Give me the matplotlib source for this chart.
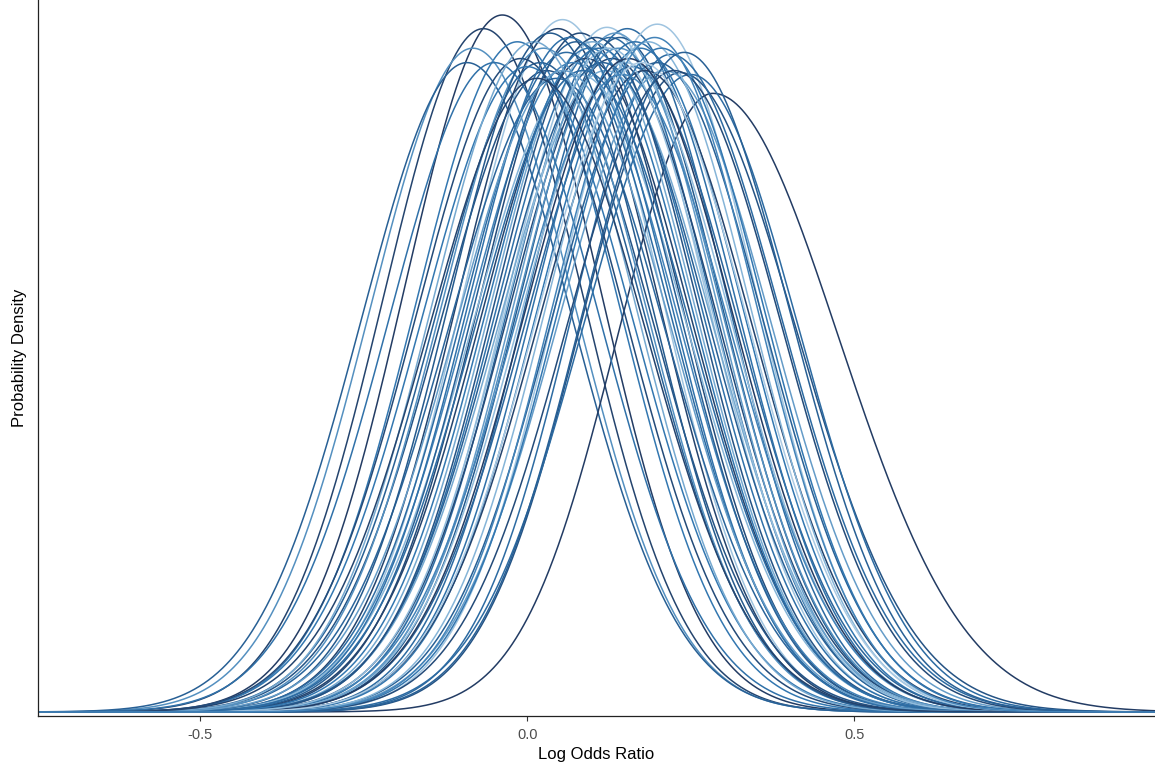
import numpy as np
import matplotlib
matplotlib.use("Agg")
import matplotlib.pyplot as plt
from matplotlib.colors import LinearSegmentedColormap

# Posterior curves: location (log odds ratio), left/right spread, colour shade
means = [-0.038, -0.067, -0.015, -0.083, -0.092, 0.054, 0.047, 0.081, 0.122, 0.153,
         0.199, 0.127, 0.142, 0.284, 0.234, 0.219, 0.020, 0.173, 0.199, 0.100,
         0.110, 0.130, 0.140, 0.150, 0.160, 0.090, 0.070, 0.060, 0.030, 0.000,
         0.120, 0.180, 0.210, 0.250, 0.080, 0.045, 0.115, 0.135, 0.105, 0.165,
         0.185, 0.095, 0.075, 0.025, -0.010, -0.050, 0.010, 0.145, 0.155, 0.125,
         0.065, 0.035, 0.205, 0.225, 0.175, 0.085, 0.055, 0.015, 0.240, 0.195]
sd_left = [0.150, 0.153, 0.156, 0.1575, 0.161, 0.151, 0.153, 0.154, 0.1527, 0.153,
           0.152, 0.155, 0.155, 0.146, 0.152, 0.150, 0.161, 0.1575, 0.161, 0.156,
           0.1575, 0.160, 0.1575, 0.161, 0.162, 0.160, 0.161, 0.1585, 0.163, 0.162,
           0.163, 0.163, 0.163, 0.164, 0.164, 0.165, 0.161, 0.154, 0.155, 0.156,
           0.156, 0.1575, 0.156, 0.1575, 0.160, 0.161, 0.156, 0.164, 0.160, 0.1575,
           0.155, 0.154, 0.1575, 0.163, 0.161, 0.163, 0.163, 0.165, 0.155, 0.155]
sd_right = [0.150, 0.153, 0.156, 0.1575, 0.161, 0.151, 0.153, 0.154, 0.1527, 0.153,
            0.152, 0.155, 0.155, 0.192, 0.175, 0.168, 0.161, 0.1575, 0.161, 0.156,
            0.1575, 0.160, 0.1575, 0.161, 0.162, 0.160, 0.161, 0.1585, 0.163, 0.162,
            0.163, 0.163, 0.163, 0.164, 0.164, 0.165, 0.161, 0.154, 0.155, 0.156,
            0.156, 0.1575, 0.156, 0.1575, 0.160, 0.161, 0.156, 0.164, 0.160, 0.1575,
            0.155, 0.154, 0.1575, 0.163, 0.161, 0.163, 0.163, 0.165, 0.162, 0.155]
shades = [0.95, 0.90, 0.50, 0.40, 0.70, 0.15, 0.90, 0.85, 0.15, 0.60,
          0.15, 0.60, 0.75, 0.95, 0.80, 0.60, 0.70, 0.50, 0.70, 0.30,
          0.55, 0.85, 0.40, 0.20, 0.65, 0.90, 0.45, 0.60, 0.80, 0.50,
          0.30, 0.90, 0.35, 0.60, 0.25, 0.65, 0.70, 0.35, 0.80, 0.55,
          0.25, 0.50, 0.70, 0.40, 0.85, 0.55, 0.30, 0.45, 0.95, 0.20,
          0.55, 0.75, 0.50, 0.85, 0.10, 0.60, 0.35, 0.90, 0.70, 0.45]

x_ticks = [-0.5, 0.0, 0.5]
x_ticklabels = ["-0.5", "0.0", "0.5"]

plt.rcParams['font.family'] = ['Liberation Sans', 'DejaVu Sans']

cmap = LinearSegmentedColormap.from_list(
    "blues", ["#c4daec", "#86b5d8", "#3377b0", "#255a8e", "#23355a"])

fig = plt.figure(figsize=(11.55, 7.65), dpi=100)
ax = fig.add_axes([38/1155, (765-716)/765, 1 - 38/1155, 716/765])

xs = np.linspace(-0.75, 0.97, 1200)
peak_max = 0
for m, sl, sr, c in zip(means, sd_left, sd_right, shades):
    norm = 2.0 / (np.sqrt(2*np.pi) * (sl + sr))
    s = np.where(xs < m, sl, sr)
    y = norm * np.exp(-0.5 * ((xs - m) / s) ** 2)
    peak_max = max(peak_max, norm)
    ax.plot(xs, y, color=cmap(c), lw=1.1, solid_capstyle='round')

ax.set_xlim(-0.748, 0.96)
ax.set_ylim(-4/697*peak_max, 712/697*peak_max)
ax.set_xticks(x_ticks)
ax.set_xticklabels(x_ticklabels, color="#4d4d4d", fontsize=10.5)
ax.set_yticks([])
ax.tick_params(axis='x', length=3.5, width=0.8, color="#333333", pad=5)
for side in ['top', 'right']:
    ax.spines[side].set_visible(False)
for side in ['left', 'bottom']:
    ax.spines[side].set_color("#222222")
    ax.spines[side].set_linewidth(0.9)
ax.set_xlabel("Log Odds Ratio", fontsize=12, labelpad=4)
ax.set_ylabel("Probability Density", fontsize=12, labelpad=8)

fig.savefig("out.png", dpi=100)
